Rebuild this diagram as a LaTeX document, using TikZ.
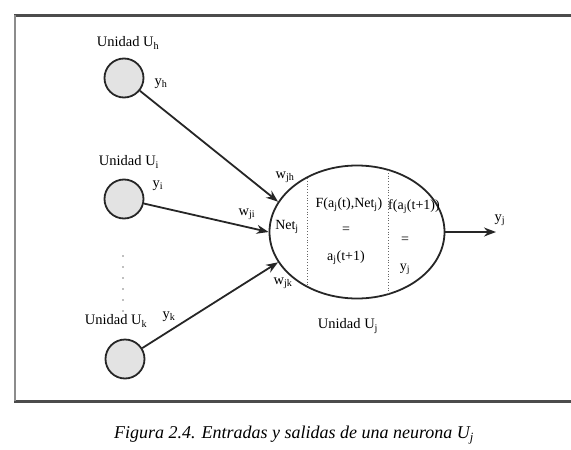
\documentclass[tikz,border=0pt]{standalone}
\usepackage{fontspec}
\setmainfont{Liberation Serif}
\usetikzlibrary{shapes.geometric,arrows.meta}
\tikzset{
  unit/.style={circle,draw=black!85,line width=1.8pt,fill=gray!22,minimum size=39pt,inner sep=0pt},
  neuron/.style={ellipse,draw=black!85,line width=1.8pt,minimum width=175pt,minimum height=133pt,inner sep=0pt},
  lbl/.style={font=\fontsize{14.5}{16}\selectfont,inner sep=1pt},
  inlbl/.style={font=\fontsize{14}{16}\selectfont,inner sep=1pt},
  conn/.style={line width=1.8pt,draw=black!85,-{Stealth[length=12pt,width=9pt]}},
  frame/.style={line width=3pt,draw=black!70},
  lframe/.style={line width=2pt,draw=black!45},
  sep/.style={draw=black!60,line width=0.8pt,dotted}
}
\begin{document}
\begin{tikzpicture}[x=1pt,y=-1pt]
\useasboundingbox (0,0) rectangle (571,450);
% frame
\draw[frame] (571,15) -- (14,15);
\draw[frame] (14,401) -- (571,401);
\draw[lframe] (15,15) -- (15,401);
% input units
\node[unit] (uh) at (124,78) {};
\node[unit] (ui) at (124,199) {};
\node[unit] (uk) at (125,359) {};
\node[lbl] (luh) at (128,43) {Unidad U\textsubscript{h}};
\node[lbl] (lui) at (129,162) {Unidad U\textsubscript{i}};
\node[lbl] (luk) at (116,321) {Unidad U\textsubscript{k}};
% dots
\foreach \yy in {256,267,278,289,300,311}
  \fill[black!50] (123,\yy) circle (0.9pt);
% neuron
\node[neuron] (nj) at (357,232) {};
\node[lbl] (lnj) at (348,326) {Unidad U\textsubscript{j}};
% separators
\draw[sep] (307,178) -- (307,286);
\draw[sep] (388,170) -- (388,294);
% inner texts
\node[inlbl] (net) at (287,227) {Net\textsubscript{j}};
\node[inlbl] (fa) at (349,205) {F(a\textsubscript{j}(t),Net\textsubscript{j})};
\node[inlbl] (eq1) at (346,230) {=};
\node[inlbl] (anew) at (346,258) {a\textsubscript{j}(t+1)};
\node[inlbl] (fo) at (414,207) {f(a\textsubscript{j}(t+1))};
\node[inlbl] (eq2) at (405,240) {=};
\node[inlbl] (yj) at (405,269) {y\textsubscript{j}};
% connectors
\draw[conn] (uh) -- (nj.159);
\draw[conn] (ui) -- (nj.180);
\draw[conn] (uk) -- (nj.201);
\coordinate (out) at (496,232);
\draw[conn] (nj.east) -- (out);
% connector labels
\node[lbl] (yh) at (161,84) {y\textsubscript{h}};
\node[lbl] (yi) at (158,186) {y\textsubscript{i}};
\node[lbl] (yk) at (169,317) {y\textsubscript{k}};
\node[lbl] (wjh) at (285,177) {w\textsubscript{jh}};
\node[lbl] (wji) at (247,214) {w\textsubscript{ji}};
\node[lbl] (wjk) at (283,283) {w\textsubscript{jk}};
\node[lbl] (yout) at (500,220) {y\textsubscript{j}};
% caption
\node[font=\fontsize{18}{21}\selectfont\itshape] (cap) at (294,435) {Figura 2.4. Entradas y salidas de una neurona U\textsubscript{j}};
\end{tikzpicture}
\end{document}
